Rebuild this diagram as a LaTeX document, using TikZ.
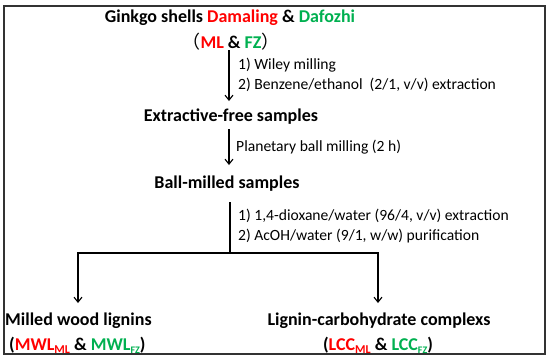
\documentclass[tikz,border=0pt]{standalone}
\usepackage{fontspec}
\setmainfont{Carlito}
\newfontfamily\cjk{Noto Sans CJK SC}
\usetikzlibrary{arrows.meta}
\definecolor{myred}{RGB}{255,0,0}
\definecolor{mygreen}{RGB}{0,176,80}
\tikzset{
  title/.style={font=\fontsize{18}{21}\selectfont\bfseries, inner sep=0pt, anchor=center},
  lab/.style={font=\fontsize{15.6}{18}\selectfont, inner sep=0pt, anchor=west},
  conn/.style={line width=1.2pt},
  arr/.style={conn, -{Straight Barb[length=5pt,width=8pt,line width=1.1pt]}},
}
\begin{document}
\begin{tikzpicture}[x=1pt,y=-1pt]
\useasboundingbox (0,0) rectangle (550,359);
\draw[line width=2pt, black!80] (4,6) rectangle (545,354);
\node[title] (t1) at (230,18) {Ginkgo shells \textcolor{myred}{Damaling} \& \textcolor{mygreen}{Dafozhi}};
\node[title] (t2) at (231,42) {{\cjk\mdseries （}\textcolor{myred}{ML} \& \textcolor{mygreen}{FZ}{\cjk\mdseries ）}};
\coordinate (a1s) at (229,50);
\coordinate (a1e) at (229,101);
\draw[arr] (a1s) -- (a1e);
\node[lab] (l1) at (238,65) {1) Wiley milling};
\node[lab] (l2) at (238,85) {2) Benzene/ethanol\ \ (2/1, v/v)\ extraction};
\node[title] (ef) at (231,117) {Extractive-free samples};
\coordinate (a2s) at (229,129);
\coordinate (a2e) at (229,165);
\draw[arr] (a2s) -- (a2e);
\node[lab] (l3) at (236,147) {Planetary ball milling (2 h)};
\node[title] (bm) at (227,184) {Ball-milled samples};
\coordinate (v1) at (230,202);
\coordinate (v2) at (230,253);
\coordinate (hl) at (78,253);
\coordinate (hr) at (378,253);
\coordinate (al) at (78,303);
\coordinate (ar) at (378,303);
\draw[conn] (v1) -- (v2);
\draw[arr] (v2) -- (hl) -- (al);
\draw[arr] (v2) -- (hr) -- (ar);
\node[lab] (l4) at (238,216) {1) 1,4-dioxane/water (96/4, v/v) extraction};
\node[lab] (l5) at (238,236) {2) AcOH/water (9/1, w/w) purification};
\node[title, anchor=west] (mw) at (5,321) {Milled wood lignins};
\node[title, anchor=west] (mw2) at (9,345) {(\textcolor{myred}{MWL{\fontsize{12}{14}\selectfont\raisebox{-3pt}{ML}}} \& \textcolor{mygreen}{MWL{\fontsize{10}{12}\selectfont\raisebox{-3pt}{FZ}}})};
\node[title] (lc) at (379,321) {Lignin-carbohydrate complexs};
\node[title] (lc2) at (378,345) {(\textcolor{myred}{LCC{\fontsize{12}{14}\selectfont\raisebox{-3pt}{ML}}} \& \textcolor{mygreen}{LCC{\fontsize{10}{12}\selectfont\raisebox{-3pt}{FZ}}})};
\end{tikzpicture}
\end{document}
